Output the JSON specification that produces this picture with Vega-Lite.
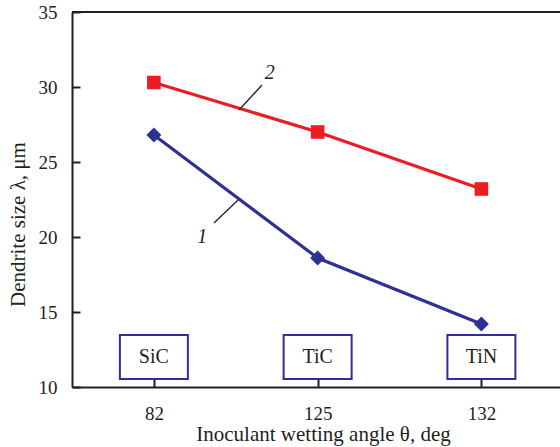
{
  "$schema": "https://vega.github.io/schema/vega-lite/v6.json",
  "width": 488,
  "height": 375,
  "autosize": {"type": "none"},
  "padding": {"left": 72, "top": 12, "right": 0, "bottom": 60},
  "background": "white",
  "config": {
    "view": {"stroke": null},
    "font": "Liberation Serif",
    "axis": {
      "grid": false,
      "domainColor": "#231F20",
      "domainWidth": 2,
      "tickColor": "#231F20",
      "tickWidth": 2,
      "tickSize": -8,
      "labelFont": "Liberation Serif",
      "labelFontSize": 19,
      "labelColor": "#231F20",
      "titleFont": "Liberation Serif",
      "titleFontSize": 21,
      "titleFontWeight": "normal",
      "titleColor": "#231F20"
    }
  },
  "datasets": {
    "curves": [
      {"idx": 0, "angle": 82, "curve": "1", "size": 26.8},
      {"idx": 1, "angle": 125, "curve": "1", "size": 18.6},
      {"idx": 2, "angle": 132, "curve": "1", "size": 14.2},
      {"idx": 0, "angle": 82, "curve": "2", "size": 30.3},
      {"idx": 1, "angle": 125, "curve": "2", "size": 27.0},
      {"idx": 2, "angle": 132, "curve": "2", "size": 23.2}
    ],
    "inoculants": [
      {"idx": 0, "inoculant": "SiC"},
      {"idx": 1, "inoculant": "TiC"},
      {"idx": 2, "inoculant": "TiN"}
    ],
    "leaders": [
      {"curve": "1", "x1": 0.514, "y1": 22.47, "x2": 0.367, "y2": 20.93, "lx": 0.295, "ly": 20.0},
      {"curve": "2", "x1": 0.52, "y1": 28.47, "x2": 0.66, "y2": 30.13, "lx": 0.708, "ly": 30.95}
    ]
  },
  "layer": [
    {
      "data": {"name": "curves"},
      "mark": {"type": "rule", "color": "#231F20", "strokeWidth": 2},
      "encoding": {"y": {"datum": 35, "type": "quantitative"}}
    },
    {
      "data": {"name": "curves"},
      "mark": {"type": "line", "strokeWidth": 3.2},
      "encoding": {
        "x": {
          "field": "idx",
          "type": "quantitative",
          "scale": {"domain": [-0.5, 2.48], "nice": false, "zero": false},
          "axis": {
            "values": [0, 1, 2],
            "labelExpr": "['82','125','132'][datum.value]",
            "labelPadding": 25,
            "title": "Inoculant wetting angle θ, deg",
            "titleX": 251,
            "titlePadding": 0
          }
        },
        "y": {
          "field": "size",
          "type": "quantitative",
          "scale": {"domain": [10, 35], "nice": false, "zero": false},
          "axis": {
            "values": [10, 15, 20, 25, 30, 35],
            "labelPadding": 23,
            "title": "Dendrite size λ, μm",
            "titleAngle": -90,
            "titleX": -54,
            "titleY": 212,
            "titleAlign": "center",
            "titleBaseline": "middle"
          }
        },
        "color": {
          "field": "curve",
          "type": "nominal",
          "scale": {"domain": ["1", "2"], "range": ["#2E3192", "#ED1C24"]},
          "legend": null
        },
        "detail": {"field": "curve"}
      }
    },
    {
      "data": {"name": "curves"},
      "mark": {"type": "point", "filled": true, "opacity": 1},
      "encoding": {
        "x": {"field": "idx", "type": "quantitative"},
        "y": {"field": "size", "type": "quantitative"},
        "color": {"field": "curve", "type": "nominal", "legend": null},
        "shape": {
          "field": "curve",
          "type": "nominal",
          "scale": {"domain": ["1", "2"], "range": ["diamond", "square"]},
          "legend": null
        },
        "size": {
          "field": "curve",
          "type": "nominal",
          "scale": {"domain": ["1", "2"], "range": [225, 185]},
          "legend": null
        }
      }
    },
    {
      "data": {"name": "inoculants"},
      "mark": {
        "type": "point",
        "shape": "M-1,-0.647L1,-0.647L1,0.647L-1,0.647Z",
        "size": 4624,
        "filled": false,
        "fill": "white",
        "stroke": "#2E3192",
        "strokeWidth": 2,
        "opacity": 1
      },
      "encoding": {
        "x": {"field": "idx", "type": "quantitative"},
        "y": {"datum": 12, "type": "quantitative"}
      }
    },
    {
      "data": {"name": "inoculants"},
      "mark": {"type": "text", "font": "Liberation Serif", "fontSize": 20, "color": "#231F20", "baseline": "middle", "align": "center"},
      "encoding": {
        "x": {"field": "idx", "type": "quantitative"},
        "y": {"datum": 12, "type": "quantitative"},
        "text": {"field": "inoculant"}
      }
    },
    {
      "data": {"name": "leaders"},
      "mark": {"type": "rule", "color": "#231F20", "strokeWidth": 1.3},
      "encoding": {
        "x": {"field": "x1", "type": "quantitative"},
        "y": {"field": "y1", "type": "quantitative"},
        "x2": {"field": "x2"},
        "y2": {"field": "y2"}
      }
    },
    {
      "data": {"name": "leaders"},
      "mark": {"type": "text", "font": "Liberation Serif", "fontSize": 20, "fontStyle": "italic", "color": "#231F20", "baseline": "middle", "align": "center"},
      "encoding": {
        "x": {"field": "lx", "type": "quantitative"},
        "y": {"field": "ly", "type": "quantitative"},
        "text": {"field": "curve"}
      }
    }
  ]
}
